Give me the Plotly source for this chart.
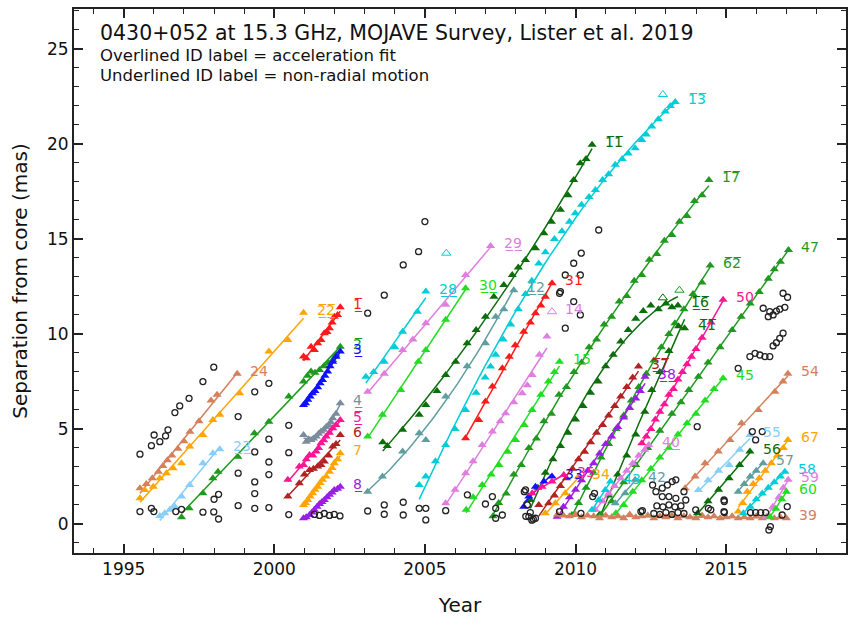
import numpy as np
import plotly.graph_objects as go

# ---------------- data: (year, separation from core in mas) ----------------
c24_t = [1995.54,1995.75,1995.95,1996.15,1996.3,1996.45,1996.6,1996.8,1997.0,1997.2,1997.5,1997.9,1998.1,1998.77]
c24_s = [1.88,2.1,2.4,2.75,3.05,3.35,3.6,3.95,4.35,4.85,5.4,6.5,6.8,7.9]
c22_t = [1995.54,1995.7,1995.98,1996.2,1996.42,1996.64,1996.92,1997.19,1997.63,1997.96,1998.19,1998.85,1999.82,2000.45,2000.97]
c22_s = [1.35,1.79,1.96,2.4,2.67,2.93,3.19,4.07,4.68,5.47,5.74,6.88,9.07,9.68,11.12]
c23_t = [1996.2,1996.36,1996.53,1996.7,1996.92,1997.19,1997.63,1997.96,1998.19]
c23_s = [0.42,0.56,0.74,0.91,1.44,2.05,3.19,3.72,3.93]
c2_t = [1996.92,1997.17,1997.63,1997.96,1998.13,1998.79,1999.34,1999.82,2000.48,2000.97,2001.1,2001.22,2001.35,2001.5,2001.65,2001.8,2001.94,2002.05,2002.19]
c2_s = [0.35,0.83,1.62,2.41,2.75,3.54,4.77,5.38,6.7,7.49,7.8,8.02,7.95,8.1,8.3,8.45,8.63,8.9,9.33]
c1_t = [2000.97,2001.06,2001.22,2001.33,2001.44,2001.55,2001.66,2001.75,2001.83,2001.92,2001.99,2002.1,2002.19]
c1_s = [8.81,8.72,9.33,9.16,9.51,9.68,10.04,10.1,10.3,10.6,10.91,11.0,11.4]
c3_t = [2000.97,2001.04,2001.11,2001.19,2001.27,2001.35,2001.44,2001.52,2001.6,2001.68,2001.77,2001.85,2001.94,2002.05,2002.19]
c3_s = [6.26,6.35,6.53,6.7,6.88,7.0,7.19,7.4,7.58,7.8,8.02,8.3,8.54,8.8,9.07]
c4_t = [2000.97,2001.06,2001.14,2001.22,2001.3,2001.39,2001.47,2001.55,2001.64,2001.72,2001.8,2001.88,2001.94,2002.05,2002.19]
c4_s = [4.68,4.33,4.45,4.42,4.5,4.6,4.75,4.86,4.95,5.1,5.21,5.35,5.56,5.8,6.35]
c5_t = [2000.45,2000.83,2000.97,2001.06,2001.17,2001.28,2001.39,2001.47,2001.55,2001.64,2001.72,2001.83,2001.94,2002.05,2002.19]
c5_s = [2.32,3.02,3.1,3.4,3.63,3.6,3.81,4.0,4.25,4.4,4.6,4.8,5.04,5.2,5.47]
c6_t = [2000.45,2000.83,2001.0,2001.17,2001.3,2001.44,2001.55,2001.66,2001.8,2001.94,2002.05,2002.19]
c6_s = [1.44,2.14,2.6,2.84,2.9,3.02,3.1,3.28,3.6,4.07,4.2,4.68]
c7_t = [2000.97,2001.04,2001.11,2001.19,2001.27,2001.35,2001.44,2001.52,2001.6,2001.72,2001.83,2001.92,2001.99,2002.1,2002.19]
c7_s = [1.0,1.1,1.26,1.45,1.61,1.8,1.96,2.15,2.32,2.5,2.75,2.95,3.19,3.4,3.72]
c8_t = [2000.97,2001.06,2001.17,2001.25,2001.33,2001.42,2001.5,2001.58,2001.66,2001.75,2001.83,2001.92,2001.99,2002.1,2002.19]
c8_s = [0.3,0.35,0.47,0.6,0.74,0.9,1.05,1.15,1.26,1.4,1.53,1.65,1.79,1.85,1.96]
c28_t = [2003.04,2003.3,2003.65,2004.0,2004.26,2004.75,2005.03]
c28_s = [7.75,8.0,8.54,9.3,10.12,11.17,12.23]
c29_t = [2003.1,2003.65,2004.26,2004.6,2005.03,2005.69,2006.35,2007.18]
c29_s = [6.96,7.9,9.16,9.7,10.56,11.53,13.1,14.63]
c30_t = [2003.1,2003.59,2004.2,2004.78,2005.03,2005.69,2006.35]
c30_s = [4.6,5.74,7.05,8.54,9.16,10.74,12.4]
c11_t = [2003.6,2003.75,2004.26,2004.81,2005.03,2005.4,2005.69,2006.02,2006.4,2006.7,2007.01,2007.29,2007.62,2007.9,2008.1,2008.34,2008.67,2008.95,2009.2,2009.5,2009.75,2009.94,2010.16,2010.35,2010.55]
c11_s = [4.3,4.1,4.95,5.74,6.26,7.0,7.84,8.54,9.51,10.2,10.91,11.96,12.58,13.1,13.5,13.89,14.51,15.3,15.9,16.53,17.3,18.1,18.98,19.2,19.95]
c12_t = [2003.1,2003.59,2004.26,2004.81,2005.03,2005.69,2006.4,2007.01,2007.35,2007.62,2007.95]
c12_s = [1.7,2.49,3.81,4.77,4.42,6.7,8.3,9.51,10.91,11.3,12.3]
c13_t = [2004.81,2005.03,2005.35,2005.69,2006.0,2006.35,2006.7,2007.0,2007.18,2007.35,2007.6,2007.85,2008.1,2008.34,2008.55,2008.78,2009.0,2009.3,2009.55,2009.8,2009.99,2010.2,2010.45,2010.66,2010.9,2011.1,2011.32,2011.55,2011.75,2011.98,2012.2,2012.35,2012.53,2012.75,2012.98,2013.15,2013.31]
c13_s = [2.05,2.49,3.3,4.16,5.0,6.0,6.9,7.7,8.28,8.9,9.7,10.5,11.3,12.1,12.8,13.7,14.3,15.0,15.4,15.9,16.35,16.8,17.2,17.58,18.1,18.4,18.9,19.2,19.5,19.77,20.2,20.5,20.91,21.3,21.7,22.0,22.2]
c31_t = [2006.35,2006.79,2007.01,2007.24,2007.57,2007.8,2008.0,2008.28,2008.5,2008.67,2008.85,2009.0,2009.22]
c31_s = [4.51,5.47,6.44,7.23,8.19,8.8,9.4,10.12,10.6,11.09,11.5,11.96,12.67]
c14_t = [2005.69,2006.0,2006.35,2006.6,2006.9,2007.24,2007.5,2007.68,2007.95,2008.23,2008.4,2008.56,2008.8,2009.05]
c14_s = [1.09,1.8,2.67,3.3,4.16,4.86,5.4,5.82,6.4,6.88,7.3,7.84,8.9,9.86]
c15_t = [2006.37,2006.6,2006.9,2007.2,2007.46,2007.75,2008.01,2008.3,2008.56,2008.85,2009.1,2009.3,2009.47]
c15_s = [0.74,1.4,2.05,2.6,3.1,3.8,4.42,5.2,6.0,6.8,7.5,8.0,8.54]
c17_t = [2007.26,2007.45,2007.7,2007.95,2008.2,2008.45,2008.7,2008.95,2009.2,2009.45,2009.7,2009.95,2010.2,2010.45,2010.7,2010.95,2011.2,2011.45,2011.7,2011.95,2012.2,2012.45,2012.7,2012.95,2013.2,2013.45,2013.7,2013.95,2014.2,2014.43]
c17_s = [0.4,1.1,1.6,2.6,3.1,4.0,4.5,5.4,5.8,6.8,7.2,8.0,8.5,9.3,9.7,10.5,10.9,11.7,12.0,12.8,13.1,13.9,14.2,14.9,15.2,15.9,16.2,17.0,17.3,18.1]
c16_t = [2008.5,2008.75,2009.0,2009.25,2009.5,2009.75,2010.0,2010.25,2010.5,2010.75,2011.0,2011.25,2011.5,2011.75,2012.0,2012.25,2012.5,2012.75,2013.0,2013.2,2013.4]
c16_s = [1.26,1.9,2.7,3.4,4.1,4.8,5.5,6.2,6.9,7.5,8.3,8.9,9.6,10.2,10.8,11.2,11.5,11.3,11.6,11.4,11.5]
c62_t = [2009.88,2010.1,2010.35,2010.6,2010.85,2011.1,2011.35,2011.6,2011.85,2012.1,2012.35,2012.6,2012.85,2013.1,2013.3,2013.6,2013.9,2014.2,2014.47]
c62_s = [0.47,1.1,1.9,2.7,3.5,4.2,5.0,5.7,6.5,7.2,7.9,8.6,9.3,10.0,10.56,11.3,12.1,12.7,13.6]
c41_t = [2010.8,2011.1,2011.4,2011.7,2012.0,2012.3,2012.53,2012.8,2013.1,2013.42,2013.62]
c41_s = [0.5,1.5,2.6,3.6,4.7,5.9,7.05,8.0,9.1,10.4,10.3]
c47_t = [2010.85,2011.2,2011.6,2012.0,2012.4,2012.8,2013.2,2013.5,2013.76,2014.08,2014.4,2014.8,2015.2,2015.5,2015.8,2016.1,2016.4,2016.6,2016.8,2017.07]
c47_s = [0.5,1.2,2.2,3.1,4.0,4.9,5.8,6.4,7.05,7.75,8.5,9.3,10.2,10.9,11.6,12.2,12.9,13.4,13.8,14.42]
c45_t = [2011.34,2011.6,2011.9,2012.2,2012.5,2012.8,2013.1,2013.4,2013.7,2014.0,2014.3,2014.6,2014.9]
c45_s = [0.56,1.0,1.7,2.3,2.9,3.5,4.0,4.7,5.3,5.8,6.5,7.1,7.67]
c50_t = [2012.2,2012.35,2012.5,2012.65,2012.8,2012.95,2013.1,2013.25,2013.4,2013.55,2013.7,2013.85,2014.0,2014.2,2014.5,2014.9]
c50_s = [4.25,4.6,5.0,5.5,5.9,6.3,6.8,7.1,7.6,8.0,8.4,8.8,9.2,9.8,10.6,11.8]
c37_t = [2008.78,2009.11,2009.3,2009.5,2009.7,2009.9,2010.1,2010.3,2010.5,2010.7,2010.9,2011.1,2011.3,2011.5,2011.7,2011.9,2012.09]
c37_s = [1.0,1.09,1.5,2.0,2.4,2.9,3.4,3.8,4.3,4.8,5.2,5.7,6.2,6.7,7.2,7.7,8.28]
c38_t = [2009.39,2009.6,2009.8,2010.0,2010.2,2010.4,2010.6,2010.8,2011.0,2011.2,2011.4,2011.6,2011.8,2012.0,2012.15,2012.31]
c38_s = [0.38,0.9,1.4,1.8,2.3,2.8,3.2,3.7,4.2,4.6,5.1,5.6,6.1,6.6,7.0,7.75]
c40_t = [2010.66,2010.9,2011.1,2011.3,2011.5,2011.7,2011.9,2012.1,2012.3,2012.43]
c40_s = [0.74,1.2,1.6,2.0,2.4,2.8,3.2,3.6,3.9,4.16]
c33_t = [2008.28,2008.45,2008.67,2008.95,2009.22]
c33_s = [0.91,1.44,1.96,2.23,2.49]
c35_t = [2008.56,2008.89,2009.22,2009.61]
c35_s = [1.61,1.96,2.23,2.58]
c34_t = [2009.0,2009.33,2009.66,2010.1]
c34_s = [0.56,1.09,1.61,2.49]
c43_t = [2010.55,2010.77,2010.99,2011.16]
c43_s = [0.74,1.26,1.79,2.23]
c42_t = [2011.32,2011.65,2011.98]
c42_s = [1.09,1.61,2.32]
c39_t = [2009.4,2009.6,2009.8,2010.0,2010.2,2010.4,2010.6,2010.8,2011.0,2011.2,2011.4,2011.6,2011.8,2012.0,2012.2,2012.4,2012.6,2012.8,2013.0,2013.2,2013.4,2013.6,2013.8,2014.0,2014.2,2014.4,2014.6,2014.8,2015.0,2015.2,2015.4,2015.6,2015.8,2016.0,2016.2,2016.4,2016.6,2016.8,2017.0]
c39_s = [0.5,0.45,0.4,0.5,0.35,0.45,0.4,0.3,0.45,0.35,0.4,0.3,0.5,0.35,0.4,0.45,0.3,0.4,0.35,0.45,0.3,0.4,0.35,0.3,0.45,0.35,0.4,0.3,0.35,0.4,0.3,0.35,0.3,0.4,0.3,0.35,0.3,0.35,0.3]
c54_t = [2013.64,2013.97,2014.3,2014.74,2015.13,2015.51,2016.07,2016.62,2016.89,2017.05]
c54_s = [1.88,2.49,3.19,3.81,4.42,5.3,6.0,6.96,7.49,7.9]
c55_t = [2014.08,2014.4,2014.75,2015.1,2015.45,2015.79]
c55_s = [1.79,2.3,2.8,3.1,3.9,4.68]
c56_t = [2014.05,2014.4,2014.75,2015.1,2015.45,2015.79]
c56_s = [0.56,1.2,1.8,2.4,3.1,3.81]
c57_t = [2015.4,2015.6,2015.8,2016.0,2016.23]
c57_s = [1.7,2.1,2.5,2.8,3.19]
c67_t = [2015.4,2015.55,2015.7,2015.9,2016.1,2016.3,2016.5,2016.7,2016.9,2017.05]
c67_s = [0.65,1.1,1.7,2.1,2.4,2.8,3.2,3.6,4.0,4.42]
c58_t = [2015.57,2015.8,2016.0,2016.2,2016.4,2016.6,2016.8,2016.95]
c58_s = [0.56,0.9,1.3,1.6,1.9,2.2,2.5,2.75]
c59_t = [2016.34,2016.55,2016.75,2016.9,2017.06]
c59_s = [0.38,0.9,1.4,1.9,2.32]
c60_t = [2016.45,2016.65,2016.85,2017.0]
c60_s = [0.38,0.8,1.3,1.7]

circ_t = [1995.54,1995.54,1995.92,1996.01,1996.2,1996.39,1996.47,1995.92,1996.0,1996.7,1996.86,1997.17,1997.63,1997.99,
          1996.73,1996.92,1997.63,1997.99,1998.15,1998.0,1998.15,1998.8,1998.8,1998.8,1999.35,1999.35,1999.35,1999.35,1999.35,
          1999.82,1999.82,1999.82,1999.82,1999.82,2000.48,2000.48,2000.48,2002.18,2001.33,2001.5,2001.66,2001.83,2001.99,
          2003.1,2003.1,2003.65,2003.65,2004.28,2004.28,2004.81,2003.65,2004.28,2004.79,2005.0,2005.03,2005.03,2005.69,
          2006.41,2007.01,2007.24,2007.35,2007.57,2007.35,2008.34,2008.45,2008.67,2008.3,2008.4,2008.5,2008.6,2008.35,2008.55,
          2009.94,2009.66,2010.16,2009.5,2009.94,2010.16,2009.66,2010.77,2010.19,2009.47,
          2016.89,2017.04,2016.23,2016.45,2016.56,2016.67,2016.78,2016.95,2016.4,2016.89,2016.78,2016.67,2016.56,
          2015.79,2015.96,2016.12,2016.29,2016.45,2015.4,2014.04,2015.87,2016.2,2015.98,2014.93,2014.49,2014.93,
          2015.81,2015.98,2016.15,2016.31,2016.42,2016.47,2017.03,2016.86,
          2012.56,2012.67,2012.88,2013.05,2013.21,2012.88,2013.1,2013.33,2012.7,2012.9,2013.1,2013.3,2013.5,
          2012.6,2012.8,2013.0,2013.2,2013.4,2013.6,2012.22,2013.33,2013.66,2013.6,
          2009.47,2010.18,2010.57,2010.63,2012.17,2013.99,2014.41,2014.94,2014.94]
circ_s = [3.67,0.65,4.12,4.68,4.33,4.63,4.95,0.82,0.65,5.86,6.21,6.61,7.49,8.25,
          0.65,0.77,0.62,0.63,0.26,1.3,1.56,5.65,2.67,0.96,6.95,3.79,2.21,1.6,0.82,
          7.4,4.46,3.26,2.6,0.86,5.19,3.75,0.49,0.42,0.5,0.45,0.55,0.45,0.5,
          11.09,0.68,1.0,0.51,1.14,0.47,0.82,12.04,13.63,14.33,15.91,0.82,0.21,0.7,
          1.53,1.05,1.44,0.82,0.47,0.3,1.79,0.38,0.3,1.7,1.0,0.6,0.25,0.4,0.2,
          13.72,13.1,13.1,12.23,11.7,11.0,10.3,15.47,14.25,12.14,
          12.14,11.93,11.35,11.17,11.0,11.2,11.3,11.4,10.91,10.04,9.77,9.54,9.37,
          8.81,8.98,8.89,8.81,8.81,8.19,5.12,4.86,4.86,4.42,1.26,0.74,0.65,
          0.6,0.6,0.6,0.6,-0.32,-0.14,0.91,0.47,
          2.05,1.7,1.88,2.05,2.23,1.44,1.44,1.35,0.95,0.9,1.0,0.9,0.95,
          0.55,0.5,0.6,0.5,0.6,0.55,0.7,2.32,1.26,1.7,
          0.65,0.56,1.44,1.61,0.65,0.74,0.82,0.6,1.18]

# hollow (unused-in-fit) triangles
hol_t = [2005.71,2012.9,2013.45,2012.9,2009.22]
hol_s = [14.25,22.6,12.3,11.9,11.17]
hol_c = ["#00cdd8","#00cdd8","#1f9a1f","#0b6e0b","#e07ee0"]

SIENNA="#d4805c"; ORANGE="#ffa500"; SKY="#87cefa"; GREEN="#1f9a1f"; DGREEN="#0b6e0b"
RED="#ff1a1a"; BLUE="#1010ff"; SLATE="#7b8c9c"; PINK="#ff1493"; BROWN="#b22222"
PURPLE="#9a1ee6"; CYAN="#00cdd8"; ORCHID="#e07ee0"; LIME="#22dd22"; CADET="#5f9ea0"

# label, color, decoration (o=overline,u=underline), fit degree, t, s
components = [
    ("24",SIENNA,"",1,c24_t,c24_s),("22",ORANGE,"ou",1,c22_t,c22_s),("23",SKY,"u",1,c23_t,c23_s),
    ("2",GREEN,"o",1,c2_t,c2_s),("1",RED,"ou",1,c1_t,c1_s),("3",BLUE,"u",1,c3_t,c3_s),
    ("4",SLATE,"u",2,c4_t,c4_s),("5",PINK,"ou",1,c5_t,c5_s),("6",BROWN,"",1,c6_t,c6_s),
    ("7",ORANGE,"",1,c7_t,c7_s),("8",PURPLE,"u",1,c8_t,c8_s),
    ("28",CYAN,"u",1,c28_t,c28_s),("29",ORCHID,"u",1,c29_t,c29_s),("30",LIME,"u",1,c30_t,c30_s),
    ("11",DGREEN,"o",2,c11_t,c11_s),("12",CADET,"u",2,c12_t,c12_s),("13",CYAN,"o",2,c13_t,c13_s),
    ("31",RED,"",1,c31_t,c31_s),("14",ORCHID,"",1,c14_t,c14_s),("15",LIME,"",1,c15_t,c15_s),
    ("17",GREEN,"o",2,c17_t,c17_s),("16",DGREEN,"ou",2,c16_t,c16_s),("62",GREEN,"o",2,c62_t,c62_s),
    ("41",DGREEN,"o",2,c41_t,c41_s),("47",GREEN,"",1,c47_t,c47_s),("45",LIME,"",1,c45_t,c45_s),
    ("50",PINK,"",1,c50_t,c50_s),("37",BROWN,"ou",1,c37_t,c37_s),("38",PURPLE,"u",1,c38_t,c38_s),
    ("40",ORCHID,"u",1,c40_t,c40_s),("33",BLUE,"",1,c33_t,c33_s),("35",PINK,"",1,c35_t,c35_s),
    ("34",ORANGE,"",1,c34_t,c34_s),("43",CYAN,"",1,c43_t,c43_s),("42",CADET,"",1,c42_t,c42_s),
    ("39",SIENNA,"",1,c39_t,c39_s),("54",SIENNA,"",1,c54_t,c54_s),("55",SKY,"",1,c55_t,c55_s),
    ("56",DGREEN,"",1,c56_t,c56_s),("57",CADET,"",1,c57_t,c57_s),("67",ORANGE,"",1,c67_t,c67_s),
    ("58",CYAN,"",1,c58_t,c58_s),("59",ORCHID,"",1,c59_t,c59_s),("60",LIME,"",1,c60_t,c60_s),
]
# labels that sit beside a hollow (not fitted) epoch instead of the last fitted one
label_at_hollow = {"14": 4}

def deco(txt, d):
    out = ""
    for ch in txt:
        out += ch + ("\u0305" if "o" in d else "") + ("\u0332" if "u" in d else "")
    return out

fig = go.Figure()
annotations = []
for lab, col, d, deg, t, s in components:
    t = np.array(t); s = np.array(s)
    p = np.polyfit(t, s, deg)
    tf = np.linspace(t.min(), t.max(), 40)
    fig.add_trace(go.Scatter(x=tf, y=np.polyval(p, tf), mode="lines",
                             line=dict(color=col, width=1.5), hoverinfo="skip", showlegend=False))
    fig.add_trace(go.Scatter(x=t, y=s, mode="markers", showlegend=False,
                             marker=dict(symbol="triangle-up", size=8, color=col, line=dict(width=0))))
    if lab in label_at_hollow:
        lx, ly = hol_t[label_at_hollow[lab]], hol_s[label_at_hollow[lab]]
    else:
        lx, ly = t[-1], s[-1]
    annotations.append(dict(x=lx, y=ly, xref="x", yref="y", text=deco(lab, d),
                            showarrow=False, xanchor="left", yanchor="middle", xshift=11, yshift=3,
                            font=dict(family="DejaVu Sans", size=14, color=col)))

fig.add_trace(go.Scatter(x=hol_t, y=hol_s, mode="markers", showlegend=False,
                         marker=dict(symbol="triangle-up-open", size=8, color=hol_c, line=dict(width=1))))
fig.add_trace(go.Scatter(x=circ_t, y=circ_s, mode="markers", showlegend=False,
                         marker=dict(symbol="circle-open", size=6, color="#222", line=dict(width=1.3))))

title_lines = ["0430+052 at 15.3 GHz, MOJAVE Survey, Lister et al. 2019",
               "Overlined ID label = acceleration fit",
               "Underlined ID label = non-radial motion"]
for txt, yy, fs in zip(title_lines, [0.956, 0.915, 0.877], [20.5, 16.5, 16.5]):
    annotations.append(dict(x=0.031, y=yy, xref="paper", yref="paper", text=txt, showarrow=False,
                            xanchor="left", yanchor="middle",
                            font=dict(family="DejaVu Sans", size=fs, color="#111")))

axis_common = dict(showgrid=False, zeroline=False, showline=True, linecolor="#222", linewidth=2,
                   mirror="allticks", ticks="inside", ticklen=9, tickwidth=1.5, tickcolor="#222",
                   tickfont=dict(family="DejaVu Sans", size=17, color="#111"))
fig.update_layout(
    width=848, height=625, plot_bgcolor="white", paper_bgcolor="white",
    margin=dict(l=74, r=0, t=9, b=72),
    annotations=annotations,
    xaxis=dict(range=[1993.35, 2018.98], tick0=1995, dtick=5,
               minor=dict(dtick=1, tick0=1995, ticklen=5, tickwidth=1.2, tickcolor="#222", ticks="inside"),
               title=dict(text="Year", font=dict(family="DejaVu Sans", size=20, color="#111"), standoff=20),
               **axis_common),
    yaxis=dict(range=[-1.53, 27.1], tick0=0, dtick=5,
               minor=dict(dtick=1, tick0=0, ticklen=5, tickwidth=1.2, tickcolor="#222", ticks="inside"),
               title=dict(text="Separation from core (mas)", font=dict(family="DejaVu Sans", size=20, color="#111"), standoff=14),
               **axis_common),
)
fig.write_html("out.html")
